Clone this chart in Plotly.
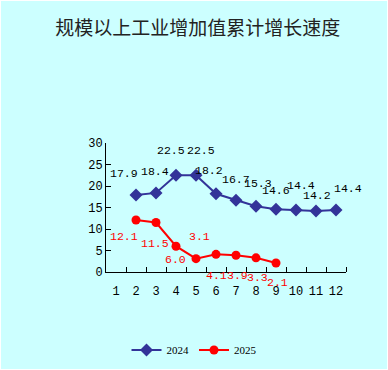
import plotly.graph_objects as go

months = [1, 2, 3, 4, 5, 6, 7, 8, 9, 10, 11, 12]
month_labels = [str(m) for m in months]
months_2024 = [2, 3, 4, 5, 6, 7, 8, 9, 10, 11, 12]
values_2024 = [17.9, 18.4, 22.5, 22.5, 18.2, 16.7, 15.3, 14.6, 14.4, 14.2, 14.4]
months_2025 = [2, 3, 4, 5, 6, 7, 8, 9]
values_2025 = [12.1, 11.5, 6.0, 3.1, 4.1, 3.9, 3.3, 2.1]
y_ticks = [0, 5, 10, 15, 20, 25, 30]
title_text = "规模以上工业增加值累计增长速度"

# label pixel offsets (style)
off_2024 = [(-12, 22), (-1, 21), (-5, 25), (5, 25), (-7, 23), (0, 21), (2, 23), (0, 19), (5, 25), (1, 15), (12, 22)]
off_2025 = [(-12, -17), (-1, -21), (-1, -13), (3, 22), (0, -21), (1, -20), (1, -20), (1, -20)]

BG = "#CCFFFF"
NAVY = "#333399"
RED = "#FF0000"
LBL_FONT = "Liberation Mono, DejaVu Sans Mono, monospace"

fig = go.Figure()
fig.add_trace(go.Scatter(
    x=months_2024, y=values_2024, mode="lines+markers", name="2024",
    line=dict(color=NAVY, width=2),
    marker=dict(symbol="diamond", size=10, color=NAVY),
))
fig.add_trace(go.Scatter(
    x=months_2025, y=values_2025, mode="lines+markers", name="2025",
    line=dict(color=RED, width=2),
    marker=dict(symbol="circle", size=9, color=RED),
))

annotations = []
for m, v, (dx, dy) in zip(months_2024, values_2024, off_2024):
    annotations.append(dict(x=m, y=v, text=f"{v:.1f}", showarrow=False,
                            xshift=dx, yshift=dy,
                            font=dict(family=LBL_FONT, size=11.5, color="black")))
for m, v, (dx, dy) in zip(months_2025, values_2025, off_2025):
    annotations.append(dict(x=m, y=v, text=f"{v:.1f}", showarrow=False,
                            xshift=dx, yshift=dy,
                            font=dict(family=LBL_FONT, size=11.5, color=RED)))

W, H = 386, 368
fig.update_layout(
    width=W, height=H,
    paper_bgcolor=BG, plot_bgcolor=BG,
    margin=dict(l=105, r=41, t=142, b=97, autoexpand=False),
    title=dict(text=title_text, x=0.51, xanchor="center", y=1 - 27 / H, yanchor="middle",
               font=dict(family="Noto Sans CJK SC", size=19, color="#222222")),
    showlegend=True,
    legend=dict(orientation="h", x=0.5, xanchor="center", xref="container",
                y=(H - 349) / H, yanchor="middle", yref="container",
                font=dict(family="Liberation Serif, DejaVu Serif, serif", size=11, color="black"),
                bgcolor="rgba(0,0,0,0)", itemwidth=30),
    annotations=annotations,
)
fig.update_xaxes(
    range=[0.5, 12.5], tickmode="array", tickvals=months, ticktext=month_labels,
    showline=True, linecolor="black", linewidth=1, showgrid=False, zeroline=False,
    ticks="", tickfont=dict(family=LBL_FONT, size=12, color="black"), ticklabelstandoff=8,
    minor=dict(tickmode="array", tickvals=[m + 0.5 for m in months], ticks="inside", ticklen=5,
               tickcolor="black", showgrid=False),
)
fig.update_yaxes(
    range=[0, 30], tickmode="array", tickvals=y_ticks,
    showline=True, linecolor="black", linewidth=1, showgrid=False, zeroline=False,
    ticks="inside", ticklen=5, tickcolor="black",
    tickfont=dict(family=LBL_FONT, size=12, color="black"),
)

fig.write_html("out.html",
               post_script="document.body.style.margin='1px';document.body.style.background='#FFFFFF';")
